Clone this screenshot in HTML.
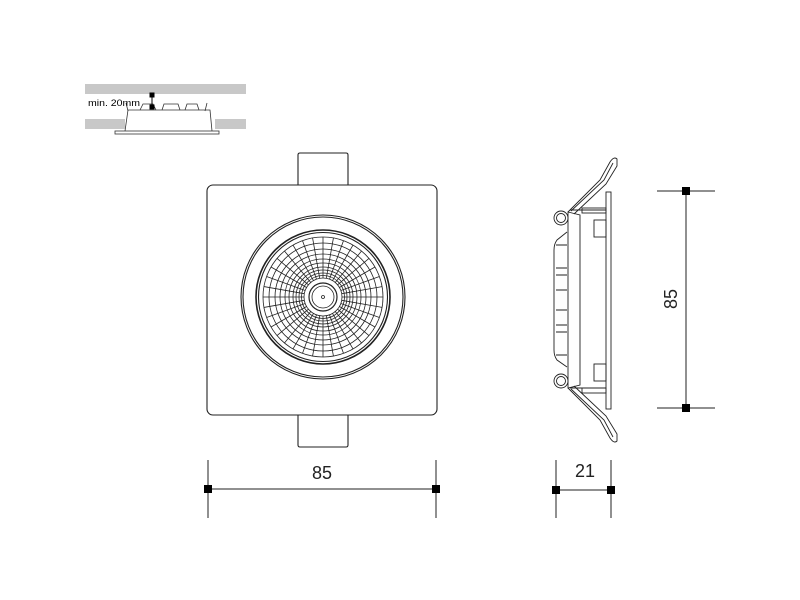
<!DOCTYPE html>
<html><head><style>body{margin:0;background:#fff}svg{display:block}</style></head><body>
<svg width="800" height="600" viewBox="0 0 800 600" xmlns="http://www.w3.org/2000/svg" font-family="Liberation Sans, sans-serif">
<rect width="800" height="600" fill="#fff"/>
<!-- small inset -->
<rect x="85" y="84" width="161" height="10" fill="#c8c8c8"/>
<rect x="85" y="119" width="40" height="10" fill="#c8c8c8"/>
<rect x="215" y="119" width="31" height="10" fill="#c8c8c8"/>
<g fill="none" stroke="#333" stroke-width="0.8">
<rect x="115" y="131" width="104" height="3"/>
<path d="M125 131 L128 110 L210 110 L212 131"/>
<path d="M140 110 l3-6 h10 l3 6 M162 110 l2-6 h14 l2 6 M185 110 l2-6 h10 l2 6 M205 111 l2-8 M128 111 l-2-8"/>
</g>
<line x1="152" y1="96" x2="152" y2="107" stroke="#000" stroke-width="1"/>
<rect x="149.5" y="92.5" width="5" height="5" fill="#000"/>
<rect x="149.5" y="104.5" width="5" height="5" fill="#000"/>
<text x="88" y="106" font-size="9" fill="#000" textLength="52" lengthAdjust="spacingAndGlyphs">min. 20mm</text>

<!-- front view -->
<g fill="none" stroke="#222" stroke-width="1.1">
<path d="M298 185 V155 q0-2 2-2 H346 q2 0 2 2 V185"/>
<path d="M298 415 V445 q0 2 2 2 H346 q2 0 2-2 V415"/>
<rect x="207" y="185" width="230" height="230" rx="6"/>
<circle cx="323" cy="297" r="82"/>
<circle cx="323" cy="297" r="80"/>
<circle cx="323" cy="297" r="67" stroke-width="1.6"/>
<circle cx="323" cy="297" r="64.5"/>
</g>
<g fill="none" stroke="#222" stroke-width="0.8">
<circle cx="323" cy="297" r="60"/><circle cx="323" cy="297" r="54"/><circle cx="323" cy="297" r="48"/>
<circle cx="323" cy="297" r="43"/><circle cx="323" cy="297" r="38"/><circle cx="323" cy="297" r="34"/>
<circle cx="323" cy="297" r="30"/><circle cx="323" cy="297" r="27"/><circle cx="323" cy="297" r="24"/>
<circle cx="323" cy="297" r="21.5"/><circle cx="323" cy="297" r="19"/>
<circle cx="323" cy="297" r="14" stroke-width="1.2"/><circle cx="323" cy="297" r="11"/>
<circle cx="323" cy="297" r="1.5"/>
</g>
<g stroke="#222" stroke-width="0.8">
<line x1="342" y1="297" x2="383" y2="297" transform="rotate(0 323 297)"/>
<line x1="342" y1="297" x2="383" y2="297" transform="rotate(10 323 297)"/>
<line x1="342" y1="297" x2="383" y2="297" transform="rotate(20 323 297)"/>
<line x1="342" y1="297" x2="383" y2="297" transform="rotate(30 323 297)"/>
<line x1="342" y1="297" x2="383" y2="297" transform="rotate(40 323 297)"/>
<line x1="342" y1="297" x2="383" y2="297" transform="rotate(50 323 297)"/>
<line x1="342" y1="297" x2="383" y2="297" transform="rotate(60 323 297)"/>
<line x1="342" y1="297" x2="383" y2="297" transform="rotate(70 323 297)"/>
<line x1="342" y1="297" x2="383" y2="297" transform="rotate(80 323 297)"/>
<line x1="342" y1="297" x2="383" y2="297" transform="rotate(90 323 297)"/>
<line x1="342" y1="297" x2="383" y2="297" transform="rotate(100 323 297)"/>
<line x1="342" y1="297" x2="383" y2="297" transform="rotate(110 323 297)"/>
<line x1="342" y1="297" x2="383" y2="297" transform="rotate(120 323 297)"/>
<line x1="342" y1="297" x2="383" y2="297" transform="rotate(130 323 297)"/>
<line x1="342" y1="297" x2="383" y2="297" transform="rotate(140 323 297)"/>
<line x1="342" y1="297" x2="383" y2="297" transform="rotate(150 323 297)"/>
<line x1="342" y1="297" x2="383" y2="297" transform="rotate(160 323 297)"/>
<line x1="342" y1="297" x2="383" y2="297" transform="rotate(170 323 297)"/>
<line x1="342" y1="297" x2="383" y2="297" transform="rotate(180 323 297)"/>
<line x1="342" y1="297" x2="383" y2="297" transform="rotate(190 323 297)"/>
<line x1="342" y1="297" x2="383" y2="297" transform="rotate(200 323 297)"/>
<line x1="342" y1="297" x2="383" y2="297" transform="rotate(210 323 297)"/>
<line x1="342" y1="297" x2="383" y2="297" transform="rotate(220 323 297)"/>
<line x1="342" y1="297" x2="383" y2="297" transform="rotate(230 323 297)"/>
<line x1="342" y1="297" x2="383" y2="297" transform="rotate(240 323 297)"/>
<line x1="342" y1="297" x2="383" y2="297" transform="rotate(250 323 297)"/>
<line x1="342" y1="297" x2="383" y2="297" transform="rotate(260 323 297)"/>
<line x1="342" y1="297" x2="383" y2="297" transform="rotate(270 323 297)"/>
<line x1="342" y1="297" x2="383" y2="297" transform="rotate(280 323 297)"/>
<line x1="342" y1="297" x2="383" y2="297" transform="rotate(290 323 297)"/>
<line x1="342" y1="297" x2="383" y2="297" transform="rotate(300 323 297)"/>
<line x1="342" y1="297" x2="383" y2="297" transform="rotate(310 323 297)"/>
<line x1="342" y1="297" x2="383" y2="297" transform="rotate(320 323 297)"/>
<line x1="342" y1="297" x2="383" y2="297" transform="rotate(330 323 297)"/>
<line x1="342" y1="297" x2="383" y2="297" transform="rotate(340 323 297)"/>
<line x1="342" y1="297" x2="383" y2="297" transform="rotate(350 323 297)"/>
</g>

<!-- side view -->
<g fill="none" stroke="#222" stroke-width="0.9">
<rect x="606" y="192" width="5" height="217"/>
<path d="M570 210 H606 M570 388 H606"/>
<rect x="582" y="208" width="24" height="5"/>
<rect x="582" y="388" width="24" height="5"/>
<rect x="594" y="220" width="12" height="17"/>
<rect x="594" y="364" width="12" height="17"/>
<path d="M568 212 L580 215 V385 L568 388 Z"/>
<path d="M567 232 L557 240 q-3 4-3 10 V350 q0 6 3 10 L567 367"/>
<path d="M556 245 H567 M556 268 H567 M556 275 H567 M556 290 H567 M556 310 H567 M556 325 H567 M556 332 H567 M556 355 H567"/>
<circle cx="561" cy="218" r="7"/><circle cx="561" cy="218" r="4.5"/>
<circle cx="561" cy="381" r="7"/><circle cx="561" cy="381" r="4.5"/>
<path d="M568 212 L600 180 L610 162 q4-6 7-3 L617 166 L606 184 L574 214"/>
<path d="M571 211 L604 180 L613 163"/>
<path d="M568 388 L600 420 L610 438 q4 6 7 3 L617 434 L606 416 L574 386"/>
<path d="M571 389 L604 420 L613 437"/>
</g>

<!-- dimensions -->
<g stroke="#222" stroke-width="1">
<line x1="208" y1="460" x2="208" y2="518"/><line x1="436" y1="460" x2="436" y2="518"/>
<line x1="208" y1="489" x2="436" y2="489"/>
<line x1="556" y1="460" x2="556" y2="518"/><line x1="611" y1="460" x2="611" y2="518"/>
<line x1="556" y1="490" x2="611" y2="490"/>
<line x1="657" y1="191" x2="715" y2="191"/><line x1="657" y1="408" x2="715" y2="408"/>
<line x1="686" y1="191" x2="686" y2="408"/>
</g>
<g fill="#000">
<rect x="204" y="485" width="8" height="8"/><rect x="432" y="485" width="8" height="8"/>
<rect x="552" y="486" width="8" height="8"/><rect x="607" y="486" width="8" height="8"/>
<rect x="682" y="187" width="8" height="8"/><rect x="682" y="404" width="8" height="8"/>
</g>
<g font-size="18" fill="#222" text-anchor="middle">
<text x="322" y="479">85</text>
<text x="585" y="477">21</text>
<text transform="translate(677,299) rotate(-90)">85</text>
</g>
</svg>
</body></html>
